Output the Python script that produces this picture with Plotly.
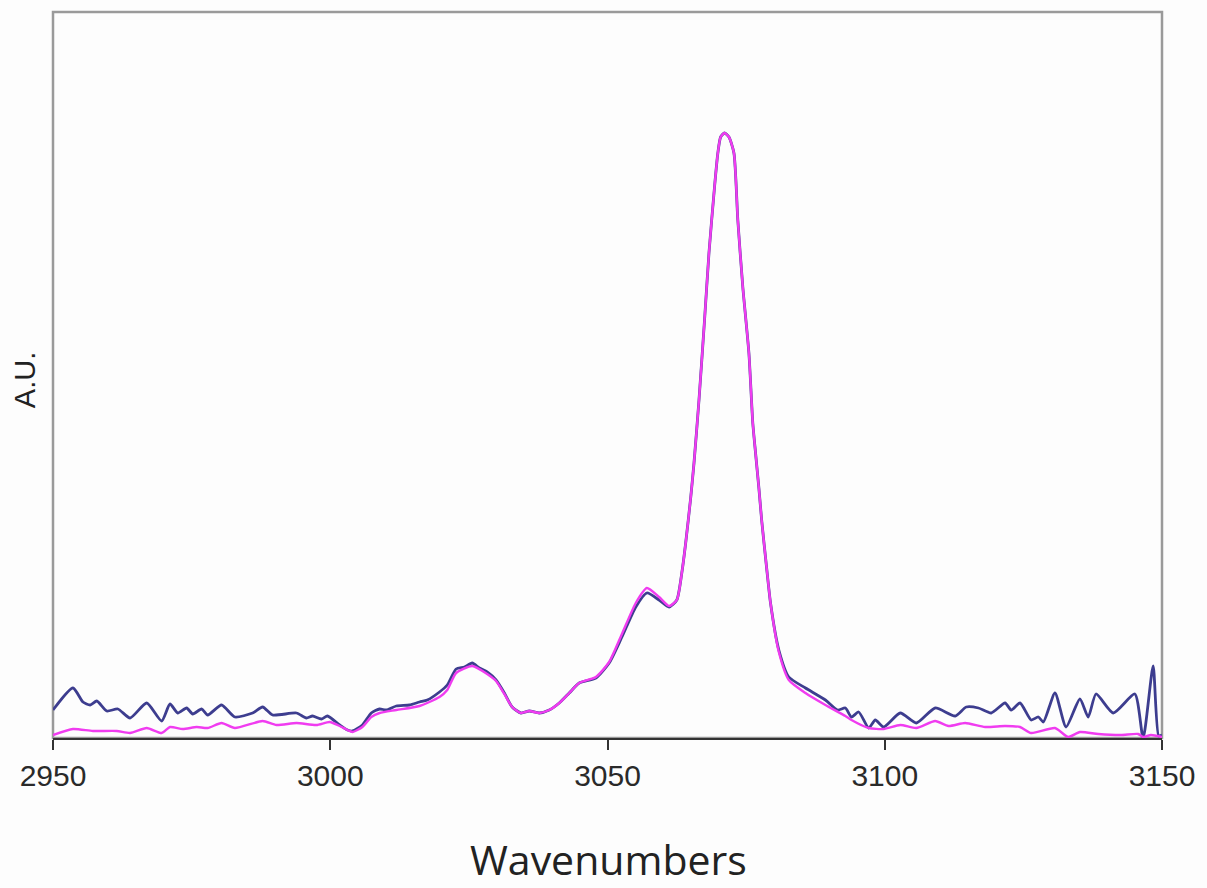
import plotly.graph_objects as go

# Wavenumbers (cm-1) and intensities (arbitrary units)
wn_blue = [2950.0, 2953.6, 2955.4, 2956.7, 2957.9, 2959.7, 2961.7, 2963.9, 2966.9, 2969.6,
           2971.1, 2972.5, 2974.1, 2975.2, 2976.8, 2977.9, 2980.4, 2982.8, 2986.0, 2987.8,
           2989.6, 2993.9, 2995.7, 2996.8, 2998.4, 2999.5, 3001.7, 3003.1, 3004.0, 3005.8,
           3007.4, 3008.9, 3010.1, 3011.9, 3014.3, 3016.1, 3017.5, 3019.7, 3021.1, 3022.7,
           3024.2, 3025.6, 3026.9, 3028.3, 3029.9, 3031.4, 3032.8, 3034.4, 3035.9, 3037.7,
           3039.5, 3041.3, 3043.1, 3044.9, 3047.9, 3050.3, 3052.6, 3055.1, 3057.1, 3059.3,
           3061.1, 3062.5, 3063.4, 3064.1, 3065.0, 3065.6, 3066.5, 3067.5, 3068.3, 3069.3,
           3069.9, 3070.4, 3071.1, 3071.9, 3072.8, 3073.5, 3074.4, 3075.5, 3076.2, 3076.7,
           3077.3, 3077.8, 3078.7, 3079.4, 3080.9, 3082.7, 3085.7, 3089.3, 3091.5, 3092.9,
           3094.0, 3095.3, 3097.1, 3098.3, 3099.8, 3102.8, 3105.7, 3109.1, 3112.7, 3114.7,
           3116.9, 3119.2, 3121.7, 3122.8, 3124.4, 3126.4, 3127.7, 3128.6, 3130.7, 3132.7,
           3135.2, 3136.7, 3138.1, 3141.2, 3145.1, 3146.6, 3148.4, 3149.4, 3150.0]
au_blue = [28, 50, 36, 33, 37, 27, 29, 20, 35, 17,
           34, 25, 30, 24, 29, 23, 33, 21, 25, 31,
           23, 25, 20, 22, 19, 22, 13, 8, 7, 13,
           25, 29, 28, 32, 33, 36, 38, 46, 53, 69,
           71, 75, 70, 66, 58, 45, 31, 25, 27, 25,
           28, 35, 45, 55, 60, 75, 101, 131, 145, 138,
           131, 138, 165, 195, 240, 275, 338, 418, 485, 551,
           585, 601, 605, 601, 585, 518, 451, 385, 315, 285,
           250, 218, 170, 135, 88, 61, 50, 38, 28, 30,
           21, 26, 10, 18, 11, 25, 15, 30, 22, 31,
           30, 25, 35, 28, 35, 18, 21, 16, 45, 11,
           39, 21, 44, 25, 44, 0, 72, 2, 3]

wn_pink = [2950.0, 2953.6, 2957.2, 2961.5, 2963.9, 2966.9, 2969.6, 2971.1, 2973.4, 2975.9,
           2977.9, 2980.4, 2982.8, 2987.8, 2990.3, 2993.9, 2997.5, 2999.9, 3001.7, 3003.1,
           3004.0, 3005.8, 3007.4, 3008.9, 3011.9, 3016.1, 3019.7, 3021.1, 3022.7, 3025.6,
           3028.3, 3029.9, 3031.4, 3032.8, 3034.4, 3035.9, 3037.7, 3039.5, 3041.3, 3043.1,
           3044.9, 3047.9, 3050.3, 3052.6, 3055.1, 3057.1, 3059.3, 3061.1, 3062.5, 3063.4,
           3064.1, 3065.0, 3065.6, 3066.5, 3067.5, 3068.3, 3069.3, 3069.9, 3070.4, 3071.1,
           3071.9, 3072.8, 3073.5, 3074.4, 3075.5, 3076.2, 3076.7, 3077.3, 3077.8, 3078.7,
           3079.4, 3080.9, 3082.7, 3085.7, 3089.3, 3092.9, 3094.0, 3097.1, 3099.8, 3102.8,
           3105.7, 3109.1, 3111.5, 3114.5, 3118.1, 3121.7, 3124.4, 3126.4, 3130.7, 3133.1,
           3135.2, 3138.5, 3142.6, 3145.7, 3146.6, 3148.0, 3150.0]
au_pink = [3, 9, 7, 7, 5, 10, 5, 11, 9, 11,
           10, 15, 10, 17, 13, 15, 13, 16, 12, 8,
           6, 11, 21, 25, 28, 32, 41, 48, 65, 72,
           64, 57, 44, 31, 25, 27, 25, 28, 35, 45,
           55, 61, 76, 104, 135, 150, 141, 132, 138, 165,
           195, 240, 275, 338, 418, 485, 551, 585, 601, 605,
           601, 585, 518, 451, 385, 315, 285, 250, 218, 170,
           135, 86, 58, 45, 33, 22, 18, 10, 9, 13,
           10, 17, 12, 15, 11, 12, 11, 5, 10, 1,
           6, 4, 3, 4, 1, 3, 1]

x_ticks = [2950, 3000, 3050, 3100, 3150]

fig = go.Figure()
fig.add_trace(go.Scatter(x=wn_blue, y=au_blue, mode="lines",
                         line=dict(color="#3d3d8f", width=2.8, shape="spline", smoothing=0.6),
                         showlegend=False))
fig.add_trace(go.Scatter(x=wn_pink, y=au_pink, mode="lines",
                         line=dict(color="#f03cf0", width=2.4, shape="spline", smoothing=0.6),
                         showlegend=False))

# frame (gray left/top/right)
fig.add_shape(type="rect", xref="paper", yref="paper", x0=0, y0=0, x1=1, y1=1,
              line=dict(color="#9a9a9a", width=2.5), layer="below")

fig.update_layout(
    width=1207, height=888,
    margin=dict(l=53, r=43, t=12, b=150),
    paper_bgcolor="#fdfdfd", plot_bgcolor="#fdfdfd",
    font=dict(family="Liberation Sans, Arial, sans-serif", color="#222222"),
    xaxis=dict(range=[2950, 3150], tickvals=x_ticks, ticktext=[str(t) for t in x_ticks],
               showgrid=False, zeroline=False, showline=True, linecolor="#333333", linewidth=2,
               ticks="outside", ticklen=10, tickwidth=2, tickcolor="#333333",
               tickfont=dict(size=30, family="Liberation Sans, Arial, sans-serif", color="#2a2a2a")),
    yaxis=dict(range=[0, 726], showticklabels=False, showgrid=False, zeroline=False,
               showline=False, ticks=""),
    annotations=[
        dict(text="Wavenumbers", xref="paper", yref="paper", x=0.501, y=-0.166,
             showarrow=False, xanchor="center", yanchor="middle",
             font=dict(size=41, family="Open Sans, sans-serif", color="#222222")),
        dict(text="A.U.", xref="paper", yref="paper", x=-0.0252, y=0.493, textangle=-90,
             showarrow=False, xanchor="center", yanchor="middle",
             font=dict(size=29, family="Liberation Sans, Arial, sans-serif", color="#222222")),
    ],
)

fig.write_html("out.html")
